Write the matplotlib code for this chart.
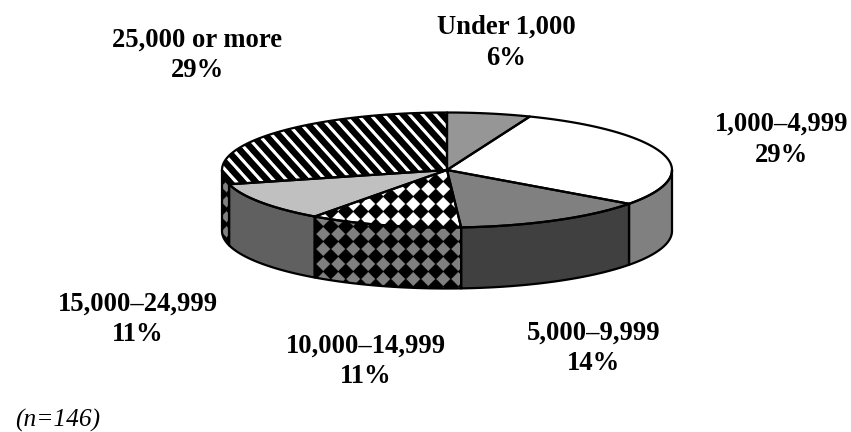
import numpy as np
import matplotlib
matplotlib.use('Agg')
import matplotlib.pyplot as plt
from matplotlib.patches import Polygon

categories = ["Under 1,000", "1,000\u20134,999", "5,000\u20139,999",
              "10,000\u201314,999", "15,000\u201324,999", "25,000 or more"]
shares = [6, 29, 14, 11, 11, 29]
note = "(n=146)"

# pie geometry, in pixels
W, H = 851, 432
CX, CY = 447, 170
RX, RY = 225, 57.5
DEPTH = 61
LW = 1.6

label_pos = [(506, 43), (782, 140), (593.7, 348.5), (366, 361.5), (137.5, 319.5), (197.5, 55.5)]


def rim(a0, a1, drop=0.0):
    # points along the ellipse, angles clockwise from 12 o'clock
    t = np.radians(np.linspace(a0, a1, 200))
    return np.column_stack([CX + RX * np.sin(t), CY - RY * np.cos(t) + drop])


def stripes(xx, yy, period=13.0, phase=98.5):
    d = np.abs(((xx - 0.9 * yy - phase) / period + 0.5) % 1.0 - 0.5)
    return np.clip((0.21 - d) / 0.09, 0, 1)


def diamonds(xx, yy, fg, r=7.0, period=15.0, x0=428.3, y0=189.0):
    dx = np.abs((xx - x0 + period / 2) % period - period / 2)
    dy = np.abs((yy - y0 + period / 2) % period - period / 2)
    return fg * np.clip((r - dx - dy) / 1.6 + 0.5, 0, 1)


yy, xx = np.mgrid[0:H, 0:W] + 0.5


def fill(ax, verts, face=None, pattern=None):
    poly = Polygon(verts, closed=True, facecolor=face or 'none', edgecolor='none', zorder=2)
    ax.add_patch(poly)
    if pattern is not None:
        im = ax.imshow(pattern, cmap='gray', vmin=0, vmax=1, extent=(0, W, H, 0),
                       interpolation='bilinear', zorder=2, aspect='auto')
        im.set_clip_path(poly)
    ax.add_patch(Polygon(verts, closed=True, facecolor='none', edgecolor='black',
                         linewidth=LW, joinstyle='round', zorder=3))


fig = plt.figure(figsize=(W / 100, H / 100), dpi=100)
ax = fig.add_axes([0, 0, 1, 1])

tops = [('#969696', None),
        ('#ffffff', None),
        ('#808080', None),
        (None, diamonds(xx, yy, 1.0)),
        ('#c0c0c0', None),
        (None, stripes(xx, yy))]
sides = [('#808080', None),
         ('#808080', None),
         ('#404040', None),
         (None, diamonds(xx, yy, 0.5)),
         ('#606060', None),
         (None, diamonds(xx, yy, 0.5, r=5.5, x0=226.5, y0=186.7))]

# slice boundaries from the shares
edges = np.concatenate([[0], np.cumsum(shares)]) / sum(shares) * 360.0

# front wall first, only the part of each slice facing the viewer
for i in range(len(shares)):
    a0, a1 = max(edges[i], 90), min(edges[i + 1], 270)
    if a1 <= a0:
        continue
    front = rim(a0, a1)
    fill(ax, np.vstack([front, rim(a0, a1, DEPTH)[::-1]]), sides[i][0], sides[i][1])

for i in range(len(shares)):
    outline = np.vstack([[CX, CY], rim(edges[i], edges[i + 1])])
    fill(ax, outline, tops[i][0], tops[i][1])

for cat, val, (x, y) in zip(categories, shares, label_pos):
    ax.text(x, y, f"{cat}\n{val}%", ha='center', va='center', family='Liberation Serif',
            fontweight='bold', fontsize=19.2, linespacing=1.3)

ax.text(15, 420, note, ha='left', va='center', family='Liberation Serif',
        style='italic', fontsize=18.3)

ax.set_xlim(0, W)
ax.set_ylim(H, 0)
ax.axis('off')
fig.savefig('out.png', dpi=100)
